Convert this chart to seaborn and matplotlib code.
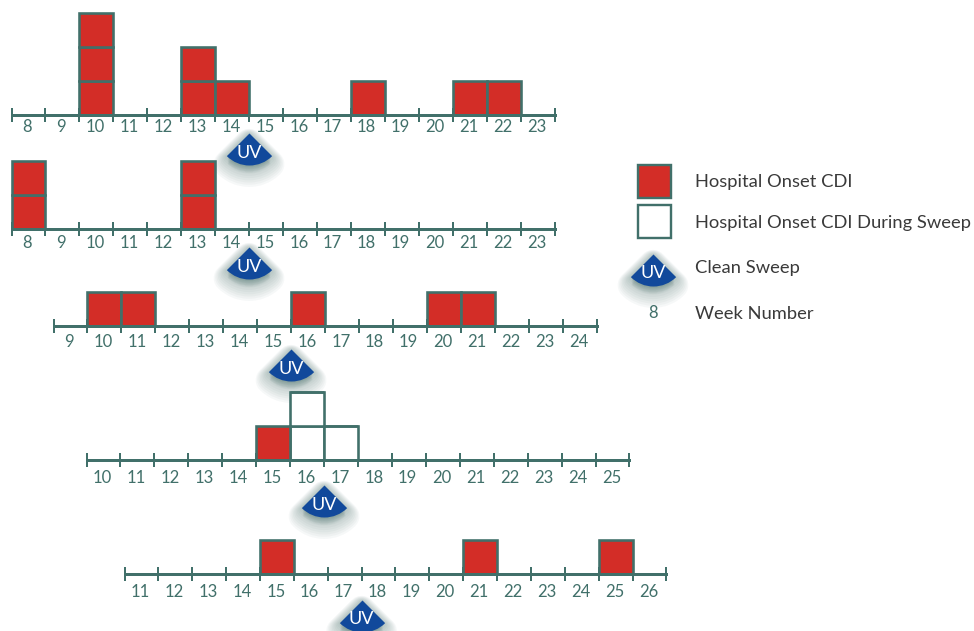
import pandas as pd
import matplotlib.pyplot as plt
import matplotlib.patheffects as pe
from matplotlib.path import Path
from matplotlib.patches import Rectangle
from matplotlib.transforms import ScaledTranslation
import seaborn as sns

# weeks on each timeline, one entry per case
first_weeks = [8, 8, 9, 10, 11]
last_weeks = [23, 23, 24, 25, 26]
onset_cases = [
    [10, 10, 10, 13, 13, 14, 18, 21, 22],
    [8, 8, 13, 13],
    [10, 11, 16, 20, 21],
    [15],
    [15, 21, 25],
]
sweep_cases = [[], [], [], [16, 16, 17], []]
uv_weeks = [14.5, 14.5, 15.5, 16.5, 17.5]

legend_labels = ["Hospital Onset CDI", "Hospital Onset CDI During Sweep", "Clean Sweep", "Week Number"]

sns.set_theme(style="white")
plt.rcParams["font.family"] = ["Lato", "DejaVu Sans"]

RED = "#d32d27"
GREEN = "#41706a"
BLUE = "#11499b"
DARK = "#3a3a3a"
SHADOW = "#2f5a55"
W, H = 974, 631
PT = 0.72  # points per pixel at dpi 100
CELL = 34

# pixel layout of the rows: left edge, right edge, baseline, gap to the UV mark, label pad
rows_px = [
    (11.5, 554.5, 115, 18, 2.8),
    (11.5, 554.5, 229, 18, 4.2),
    (53.5, 596.5, 326, 23, 5.7),
    (86.5, 629.5, 460, 25, 7.1),
    (124.5, 666.5, 574, 26, 7.1),
]

# sector shape with its tip at (0, 0)
sector = Path.arc(-135, -45)
verts = [(0, 0)] + [tuple(v) for v in sector.vertices] + [(0, 0)]
codes = [Path.MOVETO] + [Path.LINETO] + list(sector.codes[1:]) + [Path.CLOSEPOLY]
uv_marker = Path(verts, codes)

# soft shadow: many thin layers, shrinking in width and sliding towards the arc
shadow = [pe.Stroke(linewidth=w, foreground=SHADOW, alpha=0.04, offset=(0, -w * 0.3 - 1), joinstyle="round")
          for w in range(20, 0, -2)]


def draw_uv(ax, x, y):
    size = (64 * PT) ** 2
    sns.scatterplot(x=[x], y=[y], marker=uv_marker, s=size * 0.9, color=SHADOW, linewidth=0, ax=ax,
                    clip_on=False, legend=False, zorder=4, path_effects=shadow)
    sns.scatterplot(x=[x], y=[y], marker=uv_marker, s=size, color=BLUE, linewidth=0, ax=ax, clip_on=False,
                    legend=False, zorder=5)
    ax.annotate("UV", (x, y), xytext=(0, -19.5 * PT), textcoords="offset points", ha="center", va="center",
                color="white", fontsize=13, zorder=6, annotation_clip=False)


fig = plt.figure(figsize=(W / 100, H / 100), dpi=100)

for i, (x0, x1, base, gap, pad) in enumerate(rows_px):
    ax = fig.add_axes([x0 / W, 1 - base / H, (x1 - x0) / W, 3 * CELL / H])
    ax.patch.set_visible(False)

    df = pd.DataFrame({"week": onset_cases[i] + sweep_cases[i],
                       "kind": ["onset"] * len(onset_cases[i]) + ["sweep"] * len(sweep_cases[i])})
    df["case"] = df.groupby("week").cumcount().astype(str)
    df["cell"] = df["kind"] + df["case"]
    palette = {c: (RED if c.startswith("onset") else "white") for c in df["cell"].unique()}
    sns.histplot(data=df, x="week", hue="cell", palette=palette, discrete=True, multiple="stack",
                 alpha=1, edgecolor=GREEN, linewidth=2.6 * PT, legend=False, ax=ax, clip_on=False)

    weeks = list(range(first_weeks[i], last_weeks[i] + 1))
    ax.set_xlim(weeks[0] - 0.5, weeks[-1] + 0.5)
    ax.set_ylim(0, 3)
    ax.set_xlabel("")
    ax.set_ylabel("")
    ax.set_yticks([])
    ax.set_xticks([w - 0.5 for w in weeks] + [weeks[-1] + 0.5], labels=[])
    ax.set_xticks(weeks, labels=[str(w) for w in weeks], minor=True)
    ax.tick_params(axis="x", which="major", direction="inout", length=14 * PT, width=2 * PT, color=GREEN, bottom=True)
    ax.tick_params(axis="x", which="minor", length=0, pad=pad, labelsize=12, labelcolor=GREEN, bottom=True)
    # labels sit slightly left of the middle of each week
    nudge = ScaledTranslation(-1.2 / 100, 0, fig.dpi_scale_trans)
    for t in ax.get_xticklabels(minor=True):
        t.set_transform(t.get_transform() + nudge)
    sns.despine(ax=ax, left=True)
    ax.spines["bottom"].set_color(GREEN)
    ax.spines["bottom"].set_linewidth(3 * PT)

    draw_uv(ax, uv_weeks[i], -gap / CELL)

# legend, drawn in pixel coordinates
lg = fig.add_axes([0, 0, 1, 1])
lg.patch.set_visible(False)
lg.set_xlim(0, W)
lg.set_ylim(H, 0)
lg.axis("off")
lg.add_patch(Rectangle((638, 165), 33, 33, facecolor=RED, edgecolor=GREEN, linewidth=2.4 * PT))
lg.add_patch(Rectangle((638, 205), 33, 33, facecolor="white", edgecolor=GREEN, linewidth=2.4 * PT))
draw_uv(lg, 653, 254)
lg.text(653, 313, "8", color=GREEN, fontsize=12, ha="center", va="center")
for label, y in zip(legend_labels, [182, 223, 268, 314]):
    lg.text(695, y, label, color=DARK, fontsize=13.2, ha="left", va="center")
lg.set_xlim(0, W)
lg.set_ylim(H, 0)

fig.savefig("out.png", dpi=100)
